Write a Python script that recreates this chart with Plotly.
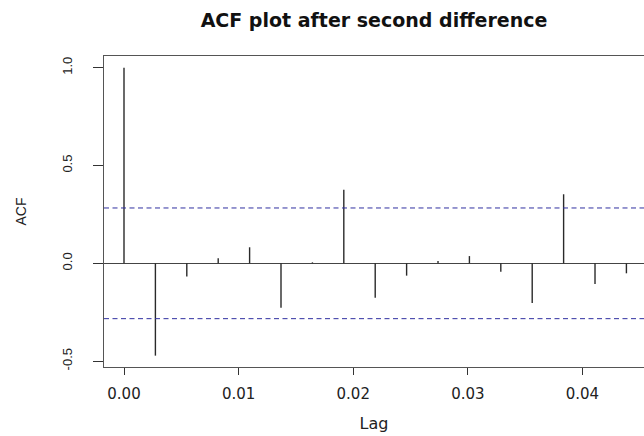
import plotly.graph_objects as go

# ---- data ----
lags = [k / 365 for k in range(17)]
acf_values = [1.0, -0.472, -0.068, 0.026, 0.082, -0.227, 0.005, 0.376, -0.176,
              -0.063, 0.012, 0.037, -0.043, -0.203, 0.353, -0.106, -0.051]
n_obs = 48
x_ticks = [0.0, 0.01, 0.02, 0.03, 0.04]
x_tick_labels = ["0.00", "0.01", "0.02", "0.03", "0.04"]
y_ticks = [-0.5, 0.0, 0.5, 1.0]
y_tick_labels = ["-0.5", "0.0", "0.5", "1.0"]
title_text = "ACF plot after second difference"

clim = 1.96 / n_obs ** 0.5

xs, ys = [], []
for l, v in zip(lags, acf_values):
    xs += [l, l, None]
    ys += [0, v, None]

fig = go.Figure()
fig.add_trace(go.Scatter(x=xs, y=ys, mode="lines",
                         line=dict(color="#2a2a2a", width=1.4),
                         hoverinfo="skip", showlegend=False))

for c in (clim, -clim):
    fig.add_shape(type="line", xref="paper", x0=0, x1=1, yref="y", y0=c, y1=c,
                  line=dict(color="#3030a0", width=1, dash="5px,3.5px"))

fig.update_layout(
    width=644, height=436,
    margin=dict(l=104, r=0, t=56, b=69),
    paper_bgcolor="white", plot_bgcolor="white",
    title=dict(text="<b>" + title_text + "</b>", x=374 / 644, xref="container",
               xanchor="center", y=1 - 20 / 436, yref="container", yanchor="middle",
               font=dict(family="DejaVu Sans", size=19, color="#111")),
    showlegend=False,
)

fig.update_xaxes(
    range=[-0.001745, 0.04537],
    tickvals=x_ticks, ticktext=x_tick_labels,
    ticks="outside", ticklen=7, tickcolor="#333", tickwidth=1,
    showline=True, mirror=True, linecolor="#555", linewidth=1,
    showgrid=False, zeroline=False,
    tickfont=dict(family="DejaVu Sans", size=15, color="#222"),
    ticklabelstandoff=6,
    title=dict(text="Lag", font=dict(family="DejaVu Sans", size=16, color="#222"),
               standoff=15),
)
fig.update_yaxes(
    range=[-0.530, 1.0598],
    tickvals=y_ticks, ticktext=y_tick_labels, tickangle=-90,
    ticks="outside", ticklen=10, tickcolor="#333", tickwidth=1,
    showline=True, mirror=False, linecolor="#555", linewidth=1,
    showgrid=False,
    zeroline=True, zerolinecolor="#444", zerolinewidth=1,
    tickfont=dict(family="Liberation Sans", size=13, color="#222"),
    ticklabelstandoff=16,
    title=dict(text="ACF", font=dict(family="Liberation Sans", size=14, color="#222"),
               standoff=29),
)

fig.write_html("out.html")
